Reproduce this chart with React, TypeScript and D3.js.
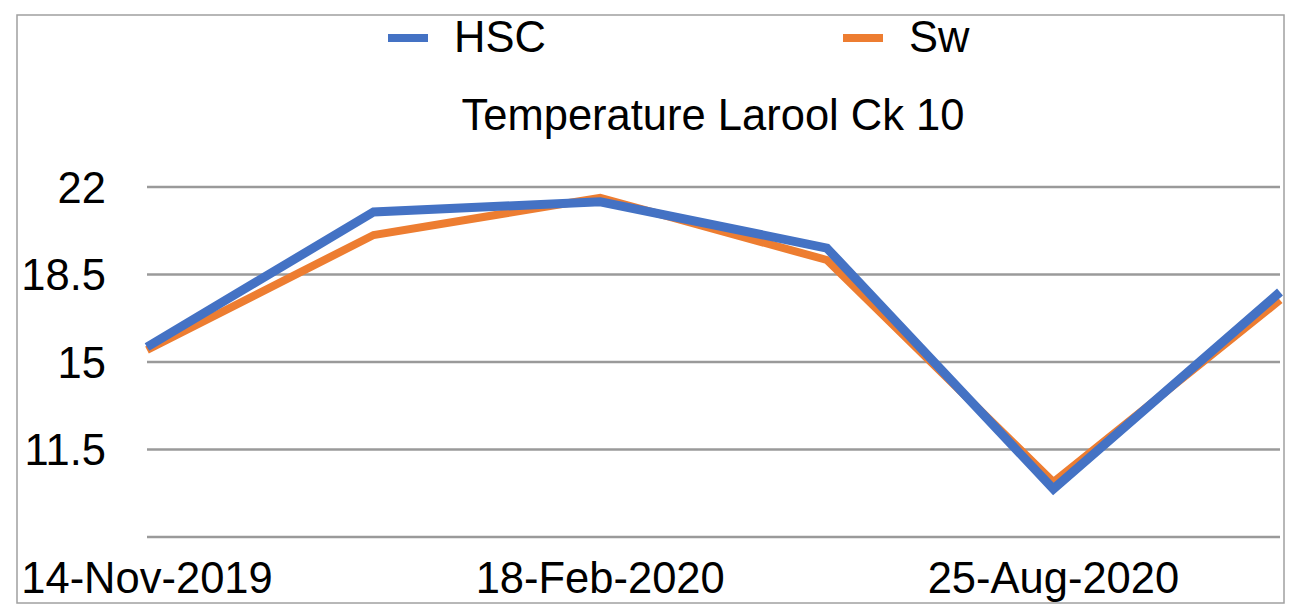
import React from "react";
import * as d3 from "d3";

const categories = ["14-Nov-2019", "", "18-Feb-2020", "", "25-Aug-2020", ""];
const hscValues = [15.6, 21.0, 21.41, 19.56, 9.92, 17.8];
const swValues = [15.48, 20.08, 21.57, 19.08, 10.2, 17.48];
const yTicks = [8, 11.5, 15, 18.5, 22];
const yTickLabels = ["", "11.5", "15", "18.5", "22"];
const seriesNames = ["HSC", "Sw"];
const seriesColors = ["#4472C4", "#ED7D31"];
const title = "Temperature Larool Ck 10";

const W = 1299;
const H = 606;
const FONT = "'Liberation Sans', Arial, Helvetica, sans-serif";

export default function App() {
  const x = d3
    .scalePoint<number>()
    .domain(d3.range(categories.length))
    .range([147, 1280]);
  const y = d3.scaleLinear().domain([8, 22]).range([537, 187]);
  const line = d3
    .line<number>()
    .x((_, i) => x(i) as number)
    .y((d) => y(d));

  return (
    <div style={{ position: "fixed", left: 0, top: 0 }}>
      <svg width={W} height={H} style={{ display: "block", background: "#fff" }}>
        <rect x={17} y={15} width={1267} height={588} fill="#fff" stroke="#a0a0a0" strokeWidth={1.5} />
        {yTicks.map((t, i) => (
          <g key={t}>
            <line x1={147} x2={1280} y1={y(t)} y2={y(t)} stroke="#9a9a9a" strokeWidth={2.5} />
            <text
              x={106}
              y={y(t)}
              dy="0.36em"
              textAnchor="end"
              fontFamily={FONT}
              fontSize={43.5}
              fill="#000"
            >
              {yTickLabels[i]}
            </text>
          </g>
        ))}
        {categories.map((c, i) =>
          c ? (
            <text
              key={i}
              x={x(i) as number}
              y={593}
              textAnchor="middle"
              fontFamily={FONT}
              fontSize={43.5}
              fill="#000"
            >
              {c}
            </text>
          ) : null
        )}
        <path d={line(swValues) || ""} fill="none" stroke={seriesColors[1]} strokeWidth={8} strokeLinejoin="miter" />
        <path d={line(hscValues) || ""} fill="none" stroke={seriesColors[0]} strokeWidth={9} strokeLinejoin="miter" />
        <text x={713} y={130} textAnchor="middle" fontFamily={FONT} fontSize={43.5} fill="#000">
          {title}
        </text>
        {seriesNames.map((n, i) => {
          const lx = [388, 843][i];
          return (
            <g key={n}>
              <line x1={lx} x2={lx + 40} y1={38} y2={38} stroke={seriesColors[i]} strokeWidth={8} />
              <text x={lx + 66} y={52} fontFamily={FONT} fontSize={43.5} fill="#000">
                {n}
              </text>
            </g>
          );
        })}
      </svg>
    </div>
  );
}
